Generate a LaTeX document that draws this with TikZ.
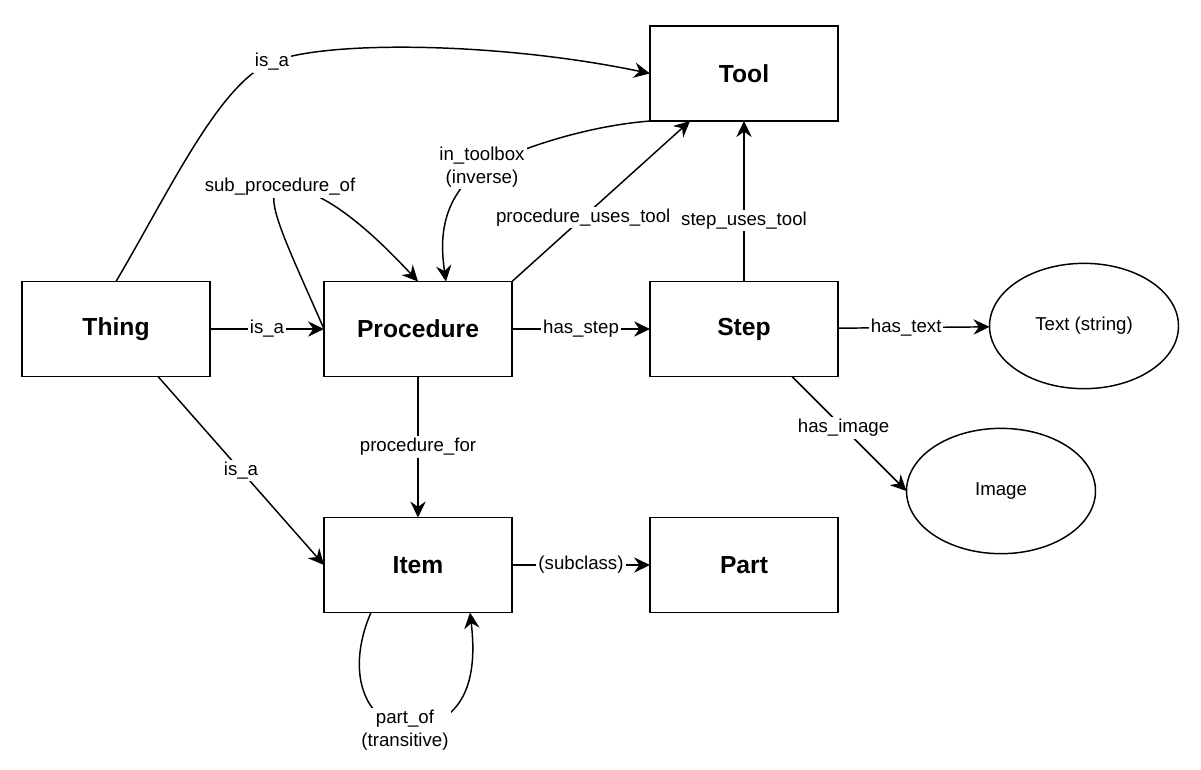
\documentclass[tikz,border=0pt]{standalone}
\usepackage{fontspec}
\setmainfont{Liberation Sans}
\usetikzlibrary{positioning, calc, arrows.meta, shapes.geometric}

\begin{document}
\begin{tikzpicture}[x=0.75pt, y=-0.75pt, line width=1.1pt,
  >={Stealth[length=12pt, width=11.5pt, inset=4pt]},
  box/.style={draw, rectangle, minimum width=141pt, minimum height=71.25pt, inner sep=0pt, outer sep=0pt, font=\fontsize{18.5}{22}\selectfont\bfseries},
  oval/.style={draw, ellipse, minimum width=141.75pt, minimum height=94pt, inner sep=0pt, outer sep=0pt, font=\fontsize{14}{16}\selectfont},
  lbl/.style={fill=white, inner sep=1.5pt, align=center, font=\fontsize{14}{17}\selectfont}]
  \useasboundingbox (0,0) rectangle (1201,769);

  \node[box] (tool) at (744,73.5) {Tool};
  \node[box] (thing) at (116,329) {Thing};
  \node[box] (procedure) at (418,329) {Procedure};
  \node[box] (step) at (744,329) {Step};
  \node[box] (item) at (418,565) {Item};
  \node[box] (part) at (744,565) {Part};
  \node[oval] (text) at (1084,326) {Text (string)};
  \node[oval] (image) at (1001,491) {Image};

  \path[draw, ->] (thing.north) .. controls (170,190) and (220,82) .. (272,62) node[lbl] {is\_a}
    .. controls (325,40) and (500,42) .. (tool.west);
  \path[draw, ->] (procedure.west) .. controls (285,240) and (262,195) .. (280,187) node[lbl] {sub\_procedure\_of}
    .. controls (320,185) and (370,230) .. (procedure.north);
  \path[draw, ->] (tool.south west) .. controls (600,125) and (540,140) .. (482,167) node[lbl] {in\_toolbox\\(inverse)}
    .. controls (440,200) and (440,240) .. ($(procedure.north)+(28,0)$);
  \path[draw, ->] (procedure.north east) -- node[lbl, pos=0.4] {procedure\_uses\_tool} ($(tool.south west)+(40,0)$);
  \path[draw, ->] (step) -- node[lbl, pos=0.38] {step\_uses\_tool} (tool);
  \path[draw, ->] (thing) -- node[lbl] {is\_a} (procedure);
  \path[draw, ->] (procedure) -- node[lbl] {has\_step} (step);
  \path[draw, ->] (step) -- node[lbl, pos=0.45] {has\_text} (text);
  \path[draw, ->] ($(step.south)+(48,0)$) -- node[lbl, pos=0.45] {has\_image} (image.west);
  \path[draw, ->] ($(thing.south)+(42,0)$) -- node[lbl] {is\_a} (item.west);
  \path[draw, ->] (procedure) -- node[lbl] {procedure\_for} (item);
  \path[draw, ->] (item) -- node[lbl] {(subclass)} (part);
  \path[draw, ->] ($(item.south)+(-47,0)$) .. controls (350,660) and (355,715) .. (405,730) node[lbl] {part\_of\\(transitive)}
    .. controls (465,725) and (478,680) .. ($(item.south)+(52,0)$);
\end{tikzpicture}
\end{document}
